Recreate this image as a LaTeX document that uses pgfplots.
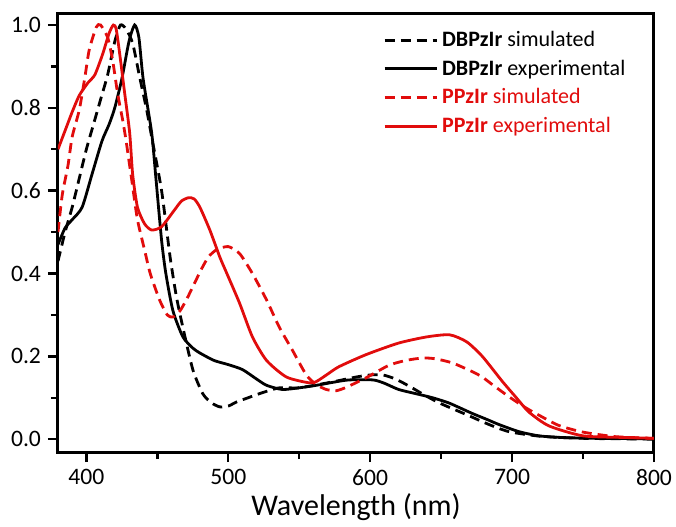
\documentclass[border=0pt]{standalone}
\usepackage{fontspec}
\setmainfont{Carlito}
\usepackage{pgfplots}
\pgfplotsset{compat=1.18}
\definecolor{myred}{RGB}{225,12,12}
\begin{document}
\begin{tikzpicture}
\begin{axis}[
  scale only axis,
  width=298pt, height=219.5pt,
  xmin=380, xmax=800, ymin=-0.031, ymax=1.029,
  xtick={400,500,600,700,800},
  ytick={0,0.2,0.4,0.6,0.8,1.0},
  minor x tick num=1, minor y tick num=1,
  xtick pos=bottom, ytick pos=left,
  tick align=outside,
  major tick length=5pt, minor tick length=3.5pt,
  every tick/.style={line width=1.2pt, black},
  axis line style={line width=1.5pt},
  /pgf/number format/assume math mode=true,
  yticklabel style={/pgf/number format/fixed, /pgf/number format/fixed zerofill, /pgf/number format/precision=1},
  tick label style={font=\fontsize{11.8}{13}\selectfont},
  xlabel={Wavelength (nm)},
  xlabel style={font=\fontsize{15}{17}\selectfont, at={(axis description cs:0.5,0)}, anchor=base, yshift=-31.5pt},
  legend cell align=left,
  legend style={draw=none, fill=none, font=\fontsize{11}{13}\selectfont, at={(rel axis cs:0.535,0.978)}, anchor=north west, row sep=1.2pt},
  legend image code/.code={\draw[#1] (0pt,0pt) -- (26pt,0pt);},
  every axis plot/.append style={line width=1.4pt, smooth, tension=0.4},
]
% DBPzIr simulated
\addplot[black, dash pattern=on 5pt off 3pt] coordinates {
(380,0.43)(385,0.50)(390,0.56)(395,0.63)(400,0.70)(405,0.76)(410,0.82)(415,0.88)(420,0.96)(424,1.00)(428,0.99)(432.6,0.956)(437.5,0.875)(442.5,0.795)(446,0.73)(453,0.60)(459,0.44)(463.5,0.343)(468,0.27)(475,0.168)(482,0.11)(488,0.088)(494,0.078)(500,0.08)(506,0.09)(514,0.10)(522,0.11)(536,0.124)(550,0.124)(573,0.138)(590,0.150)(600,0.155)(609,0.155)(618,0.145)(628,0.127)(638,0.107)(649,0.087)(668,0.059)(684,0.035)(698,0.018)(720,0.007)(750,0.002)(800,0.0)
};
\addlegendentry{\textbf{DBPzIr} simulated}
% DBPzIr experimental
\addplot[black] coordinates {
(380,0.47)(385,0.51)(390,0.53)(397,0.56)(404,0.64)(411,0.72)(416,0.76)(420,0.80)(425,0.87)(430,0.96)(434,1.00)(437,0.97)(440,0.87)(446,0.74)(449,0.63)(453,0.48)(456,0.40)(461,0.31)(468,0.247)(475,0.22)(480,0.208)(490,0.19)(500,0.18)(510,0.168)(520,0.145)(527,0.13)(538,0.12)(550,0.124)(562,0.13)(575,0.138)(585,0.143)(602,0.143)(610,0.135)(620,0.12)(632,0.11)(644,0.10)(655,0.088)(663,0.076)(672,0.062)(682,0.048)(691,0.035)(705,0.018)(719,0.008)(735,0.004)(760,0.002)(800,0.001)
};
\addlegendentry{\textbf{DBPzIr} experimental}
% PPzIr simulated
\addplot[myred, dash pattern=on 5pt off 3pt] coordinates {
(380,0.50)(383,0.59)(387,0.66)(390,0.73)(395,0.795)(399,0.875)(402,0.94)(407,0.995)(410,1.00)(415,0.97)(418.5,0.915)(422,0.835)(425.6,0.77)(428,0.72)(432,0.625)(436,0.53)(441,0.457)(445,0.40)(451.6,0.336)(457,0.30)(461,0.295)(466,0.31)(471,0.34)(476,0.375)(481,0.41)(486,0.44)(492,0.458)(500,0.465)(508,0.448)(517,0.40)(527,0.336)(536,0.27)(545,0.216)(555,0.155)(562,0.132)(569,0.12)(576,0.117)(583,0.125)(597,0.148)(613,0.178)(625,0.19)(637,0.196)(646,0.194)(658,0.184)(672,0.163)(679,0.150)(686,0.132)(698,0.102)(710,0.075)(721,0.054)(733,0.033)(750,0.017)(773,0.006)(800,0.002)
};
\addlegendentry{\textcolor{myred}{\textbf{PPzIr} simulated}}
% PPzIr experimental
\addplot[myred] coordinates {
(380,0.70)(385,0.745)(390,0.79)(395,0.83)(401,0.86)(406,0.88)(411.5,0.93)(416,0.98)(419,1.00)(421,0.99)(423.5,0.93)(427,0.835)(430.5,0.74)(432.6,0.64)(436,0.56)(441,0.52)(446,0.505)(453,0.513)(462,0.553)(467,0.575)(472,0.583)(476,0.58)(480,0.56)(487,0.505)(494,0.44)(499,0.40)(508,0.328)(517,0.247)(527,0.19)(541,0.15)(557,0.136)(562,0.139)(570,0.157)(578,0.175)(597,0.204)(620,0.232)(640,0.247)(656,0.252)(668,0.235)(679,0.20)(693,0.14)(703,0.10)(712,0.065)(726,0.032)(750,0.008)(780,0.004)(800,0.002)
};
\addlegendentry{\textcolor{myred}{\textbf{PPzIr} experimental}}
\end{axis}
\pgfresetboundingbox
\path (-29pt,-37pt) rectangle (309pt,226pt);
\end{tikzpicture}
\end{document}
